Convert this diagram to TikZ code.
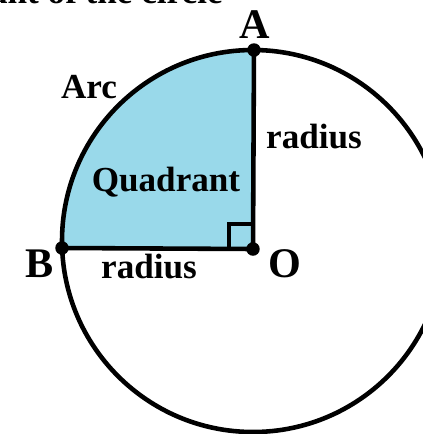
\documentclass[tikz,border=0pt]{standalone}
\usepackage{fontspec}
\setmainfont{Liberation Serif}
\usepackage{xcolor}
\definecolor{quadfill}{HTML}{99D9EA}

\begin{document}
\begin{tikzpicture}[x=0.02cm, y=-0.02cm,
  lbl/.style={font=\fontsize{20}{23}\selectfont\bfseries, anchor=base, inner sep=0pt},
  ptlbl/.style={font=\fontsize{24}{27}\selectfont\bfseries, anchor=base, inner sep=0pt},
  dot/.style={circle, fill=black, inner sep=0pt, minimum size=2.7mm},
  edge/.style={line width=2.6pt}
]
  \useasboundingbox (0,0) rectangle (423,434);
  \clip (0,0) rectangle (423,434);

  \coordinate (ctr) at (253,241);
  \fill[quadfill] (253,249) -- (254,50) arc[start angle=270, end angle=177.9, radius=191] -- cycle;
  \draw[edge] (ctr) circle[radius=191];

  \node[dot] (O) at (253,249) {};
  \node[dot] (A) at (254,50) {};
  \node[dot] (B) at (62,248) {};
  \draw[edge] (O.center) -- (A.center);
  \draw[edge] (O.center) -- (B.center);
  \draw[edge] (229,249) |- (253,224);

  \node[lbl, anchor=base east] (title) at (223,3) {Quadrant of the circle};
  \node[ptlbl] (labA) at (255,38) {A};
  \node[ptlbl] (labB) at (40,277) {B};
  \node[ptlbl] (labO) at (285,277) {O};
  \node[lbl] (arc) at (89,98) {Arc};
  \node[lbl] (rad1) at (314,148) {radius};
  \node[lbl] (quad) at (166,191) {Quadrant};
  \node[lbl] (rad2) at (149,278) {radius};
\end{tikzpicture}
\end{document}
